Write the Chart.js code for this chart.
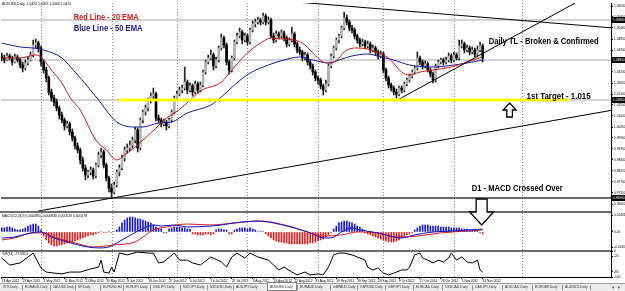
<!DOCTYPE html>
<html><head><meta charset="utf-8">
<script src="https://cdn.jsdelivr.net/npm/chart.js@4.4.1/dist/chart.umd.min.js"></script>
<style>html,body{margin:0;padding:0;background:#fff;overflow:hidden}</style>
</head><body>
<canvas id="c" width="625" height="291" style="display:block;width:625px;height:291px"></canvas>
<script>
// ---------- DATA ----------
const dateLabels = ["13 Apr 2012","23 Apr 2012","2 May 2012","11 May 2012","21 May 2012","30 May 2012","8 Jun 2012","18 Jun 2012","27 Jun 2012","6 Jul 2012","16 Jul 2012","25 Jul 2012","3 Aug 2012","13 Aug 2012","22 Aug 2012","31 Aug 2012","10 Sep 2012","19 Sep 2012","28 Sep 2012","8 Oct 2012","17 Oct 2012","26 Oct 2012","5 Nov 2012","14 Nov 2012"];
const dateIdx = [0,8,16,24,32,40,48,56,64,72,80,88,96,104,112,120,128,136,144,152,160,168,176,184];
const monthStartIdx = [15,42,67,94,121,146,173,199];

const opens = [1.0400,1.0390,1.0380,1.0400,1.0390,1.0370,1.0395,1.0380,1.0355,1.0340,
1.0365,1.0380,1.0405,1.0455,1.0465,1.0440,1.0370,1.0330,1.0290,1.0220,
1.0190,1.0170,1.0140,1.0105,1.0080,1.0050,1.0060,1.0020,0.9990,0.9950,
0.9930,0.9880,0.9840,0.9805,0.9820,0.9830,0.9800,0.9855,0.9905,0.9920,
0.9855,0.9790,0.9740,0.9720,0.9755,0.9820,0.9840,0.9890,0.9930,0.9940,
0.9955,0.9980,1.0030,0.9940,1.0080,1.0120,1.0140,1.0180,1.0200,1.0210,
1.0090,1.0080,1.0060,1.0070,1.0050,1.0080,1.0120,1.0190,1.0210,1.0230,
1.0240,1.0270,1.0230,1.0250,1.0220,1.0260,1.0230,1.0255,1.0320,1.0370,
1.0390,1.0405,1.0350,1.0380,1.0440,1.0490,1.0455,1.0370,1.0330,1.0390,
1.0470,1.0500,1.0520,1.0480,1.0500,1.0470,1.0530,1.0560,1.0570,1.0580,
1.0570,1.0600,1.0570,1.0580,1.0500,1.0480,1.0510,1.0500,1.0515,1.0490,
1.0460,1.0480,1.0510,1.0460,1.0430,1.0420,1.0390,1.0405,1.0370,1.0350,
1.0320,1.0290,1.0280,1.0250,1.0230,1.0260,1.0350,1.0400,1.0440,1.0480,
1.0500,1.0540,1.0590,1.0570,1.0540,1.0530,1.0500,1.0480,1.0460,1.0470,
1.0450,1.0460,1.0430,1.0440,1.0420,1.0400,1.0410,1.0330,1.0290,1.0255,
1.0240,1.0220,1.0210,1.0240,1.0230,1.0260,1.0280,1.0300,1.0320,1.0340,
1.0390,1.0370,1.0350,1.0360,1.0330,1.0310,1.0280,1.0350,1.0370,1.0380,
1.0370,1.0380,1.0400,1.0380,1.0405,1.0390,1.0450,1.0460,1.0430,1.0440,
1.0420,1.0430,1.0410,1.0430,1.0450];
const highs = [1.0415,1.0405,1.0415,1.0410,1.0400,1.0410,1.0405,1.0390,1.0370,1.0380,
1.0395,1.0420,1.0480,1.0485,1.0475,1.0450,1.0380,1.0345,1.0300,1.0235,
1.0205,1.0185,1.0150,1.0120,1.0090,1.0075,1.0070,1.0035,1.0000,0.9965,
0.9940,0.9895,0.9855,0.9830,0.9845,0.9840,0.9865,0.9920,0.9940,0.9930,
0.9865,0.9800,0.9760,0.9770,0.9830,0.9855,0.9905,0.9945,0.9960,0.9975,
0.9995,1.0045,1.0040,1.0090,1.0130,1.0155,1.0190,1.0215,1.0240,1.0220,
1.0105,1.0090,1.0085,1.0080,1.0090,1.0130,1.0200,1.0225,1.0245,1.0255,
1.0345,1.0280,1.0265,1.0260,1.0275,1.0270,1.0270,1.0330,1.0380,1.0405,
1.0430,1.0415,1.0395,1.0450,1.0510,1.0500,1.0465,1.0380,1.0400,1.0480,
1.0515,1.0540,1.0530,1.0515,1.0510,1.0540,1.0575,1.0585,1.0595,1.0590,
1.0615,1.0610,1.0595,1.0590,1.0515,1.0525,1.0520,1.0530,1.0525,1.0500,
1.0490,1.0545,1.0520,1.0470,1.0445,1.0430,1.0420,1.0415,1.0380,1.0360,
1.0330,1.0300,1.0290,1.0260,1.0280,1.0360,1.0410,1.0450,1.0490,1.0510,
1.0550,1.0620,1.0605,1.0580,1.0555,1.0540,1.0510,1.0490,1.0485,1.0480,
1.0475,1.0470,1.0455,1.0450,1.0430,1.0425,1.0420,1.0340,1.0300,1.0265,
1.0250,1.0235,1.0250,1.0250,1.0270,1.0290,1.0310,1.0330,1.0350,1.0420,
1.0400,1.0380,1.0375,1.0370,1.0340,1.0320,1.0360,1.0380,1.0390,1.0390,
1.0395,1.0415,1.0410,1.0420,1.0415,1.0480,1.0480,1.0470,1.0455,1.0450,
1.0445,1.0440,1.0450,1.0470,1.0460];
const lows = [1.0375,1.0365,1.0375,1.0380,1.0355,1.0365,1.0370,1.0340,1.0320,1.0330,
1.0355,1.0375,1.0395,1.0440,1.0420,1.0350,1.0315,1.0270,1.0205,1.0175,
1.0150,1.0125,1.0085,1.0065,1.0030,1.0040,1.0005,0.9975,0.9935,0.9915,
0.9860,0.9825,0.9780,0.9790,0.9805,0.9785,0.9790,0.9845,0.9890,0.9840,
0.9775,0.9720,0.9695,0.9710,0.9745,0.9800,0.9830,0.9875,0.9915,0.9925,
0.9940,0.9965,0.9920,0.9930,1.0065,1.0105,1.0125,1.0165,1.0185,1.0075,
1.0065,1.0045,1.0050,1.0030,1.0040,1.0070,1.0110,1.0180,1.0200,1.0215,
1.0230,1.0210,1.0220,1.0200,1.0210,1.0215,1.0220,1.0245,1.0310,1.0360,
1.0380,1.0330,1.0340,1.0370,1.0430,1.0440,1.0355,1.0310,1.0320,1.0380,
1.0460,1.0490,1.0460,1.0470,1.0455,1.0460,1.0520,1.0545,1.0560,1.0555,
1.0560,1.0555,1.0560,1.0490,1.0465,1.0470,1.0485,1.0490,1.0475,1.0445,
1.0450,1.0470,1.0445,1.0415,1.0405,1.0375,1.0380,1.0355,1.0335,1.0305,
1.0275,1.0260,1.0235,1.0205,1.0220,1.0250,1.0340,1.0390,1.0430,1.0465,
1.0490,1.0530,1.0555,1.0525,1.0515,1.0485,1.0465,1.0445,1.0450,1.0435,
1.0440,1.0415,1.0420,1.0405,1.0385,1.0390,1.0315,1.0275,1.0240,1.0225,
1.0205,1.0190,1.0200,1.0215,1.0220,1.0250,1.0270,1.0290,1.0310,1.0330,
1.0355,1.0335,1.0340,1.0320,1.0295,1.0265,1.0270,1.0340,1.0360,1.0355,
1.0360,1.0370,1.0365,1.0370,1.0380,1.0380,1.0440,1.0415,1.0420,1.0405,
1.0410,1.0395,1.0400,1.0420,1.0370];
const closes = [1.0390,1.0380,1.0400,1.0390,1.0370,1.0395,1.0380,1.0355,1.0340,1.0365,
1.0380,1.0405,1.0455,1.0465,1.0440,1.0370,1.0330,1.0290,1.0220,1.0190,
1.0170,1.0140,1.0105,1.0080,1.0050,1.0060,1.0020,0.9990,0.9950,0.9930,
0.9880,0.9840,0.9805,0.9820,0.9830,0.9800,0.9855,0.9905,0.9920,0.9855,
0.9790,0.9740,0.9720,0.9755,0.9820,0.9840,0.9890,0.9930,0.9940,0.9955,
0.9980,1.0030,0.9940,1.0080,1.0120,1.0140,1.0180,1.0200,1.0210,1.0090,
1.0080,1.0060,1.0070,1.0050,1.0080,1.0120,1.0190,1.0210,1.0230,1.0240,
1.0270,1.0230,1.0250,1.0220,1.0260,1.0230,1.0255,1.0320,1.0370,1.0390,
1.0405,1.0350,1.0380,1.0440,1.0490,1.0455,1.0370,1.0330,1.0390,1.0470,
1.0500,1.0520,1.0480,1.0500,1.0470,1.0530,1.0560,1.0570,1.0580,1.0570,
1.0600,1.0570,1.0580,1.0500,1.0480,1.0510,1.0500,1.0515,1.0490,1.0460,
1.0480,1.0510,1.0460,1.0430,1.0420,1.0390,1.0405,1.0370,1.0350,1.0320,
1.0290,1.0280,1.0250,1.0230,1.0260,1.0350,1.0400,1.0440,1.0480,1.0500,
1.0540,1.0590,1.0570,1.0540,1.0530,1.0500,1.0480,1.0460,1.0470,1.0450,
1.0460,1.0430,1.0440,1.0420,1.0400,1.0410,1.0330,1.0290,1.0255,1.0240,
1.0220,1.0210,1.0240,1.0230,1.0260,1.0280,1.0300,1.0320,1.0340,1.0390,
1.0370,1.0350,1.0360,1.0330,1.0310,1.0280,1.0350,1.0370,1.0380,1.0370,
1.0380,1.0400,1.0380,1.0405,1.0390,1.0450,1.0460,1.0430,1.0440,1.0420,
1.0430,1.0410,1.0430,1.0450,1.0390];

const ema20Idx = [0,7,13,15,19,23,26,30,36,40,44,47,51,57,59,63,65,70,76,84,89,94,99,103,107,112,116,119,123,126,129,131,135,140,144,148,153,156,160,165,172,178,184];
const ema20Val = [1.0390,1.0390,1.0405,1.0395,1.0330,1.0265,1.0195,1.0130,0.9980,0.9930,0.9880,0.9905,0.9945,1.0015,1.0040,1.0090,1.0105,1.0155,1.0225,1.0270,1.0345,1.0415,1.0465,1.0490,1.0485,1.0480,1.0455,1.0415,1.0370,1.0365,1.0390,1.0420,1.0440,1.0435,1.0415,1.0390,1.0320,1.0305,1.0320,1.0330,1.0345,1.0370,1.0395];
const ema50Idx = [0,7,12,16,23,28,33,37,44,51,54,60,65,71,80,84,89,95,102,108,114,119,125,129,134,140,145,150,156,165,173,178,184];
const ema50Val = [1.0465,1.0445,1.0440,1.0430,1.0390,1.0320,1.0245,1.0180,1.0070,1.0045,1.0045,1.0065,1.0070,1.0115,1.0155,1.0195,1.0255,1.0315,1.0355,1.0380,1.0395,1.0380,1.0365,1.0380,1.0400,1.0410,1.0395,1.0380,1.0355,1.0345,1.0355,1.0365,1.0380];

const hLinePrices = [1.0580, 1.0380, 1.0180, 0.9690];
const trendTopIdx = [108, 234],   trendTopVal = [1.0675, 1.0540];
const trendDailyIdx = [150.7, 219.4], trendDailyVal = [1.0175, 1.0665];
const trendLowIdx = [14, 234],    trendLowVal = [0.9625, 1.0130];
const targetIdx = [44.8, 216.9],  targetVal = [1.0180, 1.0180];

const macdHist = [0.0034,0.0034,0.0042,0.0042,0.0034,0.0025,0.0017,0.0017,0.0025,0.0034,
0.0050,0.0059,0.0067,0.0067,0.0050,0.0017,-0.0034,-0.0067,-0.0092,-0.0109,
-0.0118,-0.0118,-0.0109,-0.0109,-0.0101,-0.0092,-0.0092,-0.0084,-0.0076,-0.0067,
-0.0059,-0.0050,-0.0042,-0.0034,-0.0025,-0.0025,-0.0017,-0.0008,0.0004,-0.0004,
-0.0004,0.0004,-0.0004,0.0004,0.0017,0.0042,0.0076,0.0101,0.0118,0.0126,
0.0126,0.0118,0.0109,0.0109,0.0101,0.0092,0.0084,0.0076,0.0059,0.0042,
0.0034,0.0025,-0.0008,-0.0008,0.0025,0.0034,0.0042,0.0042,0.0042,0.0034,
0.0034,0.0025,0.0025,-0.0017,-0.0017,-0.0025,-0.0025,-0.0025,-0.0017,-0.0017,
-0.0025,-0.0017,0.0017,0.0025,0.0025,0.0017,0.0017,-0.0017,-0.0017,0.0017,
0.0025,0.0034,0.0034,0.0034,0.0025,0.0034,0.0025,0.0017,0.0004,0.0004,
0.0004,-0.0017,-0.0034,-0.0050,-0.0067,-0.0076,-0.0084,-0.0084,-0.0092,-0.0092,
-0.0101,-0.0101,-0.0101,-0.0101,-0.0101,-0.0101,-0.0101,-0.0101,-0.0092,-0.0092,
-0.0084,-0.0076,-0.0067,-0.0059,-0.0042,-0.0025,-0.0008,0.0025,0.0050,0.0076,
0.0084,0.0092,0.0092,0.0084,0.0076,0.0067,0.0050,0.0042,0.0025,-0.0008,
-0.0017,-0.0025,-0.0034,-0.0042,-0.0050,-0.0059,-0.0067,-0.0076,-0.0084,-0.0084,
-0.0084,-0.0076,-0.0067,-0.0050,-0.0034,-0.0025,-0.0017,-0.0008,0.0017,0.0034,
0.0050,0.0059,0.0059,0.0059,0.0050,0.0050,0.0050,0.0050,0.0042,0.0042,
0.0042,0.0042,0.0034,0.0034,0.0034,0.0034,0.0025,0.0025,0.0025,0.0017,
0.0017,0.0017,0.0008,-0.0008,-0.0017];
const macdMainIdx = [0,5,11,15,19,25,33,37,41,44,48,53,58,61,66,71,80,84,89,98,104,112,118,123,126,130,134,137,144,150,153,158,165,173,184];
const macdMainVal = [-0.0050,-0.0042,-0.0008,0.0000,-0.0042,-0.0084,-0.0126,-0.0134,-0.0126,-0.0092,-0.0042,0.0017,0.0059,0.0050,0.0059,0.0042,0.0050,0.0059,0.0076,0.0092,0.0076,0.0034,-0.0008,-0.0050,-0.0050,0.0000,0.0034,0.0017,-0.0008,-0.0042,-0.0050,-0.0025,0.0000,0.0008,0.0025];
const macdSigIdx = [0,5,12,16,20,28,35,43,51,58,63,71,80,89,99,108,117,123,130,136,144,150,153,159,168,178,184];
const macdSigVal = [-0.0067,-0.0050,-0.0008,-0.0008,-0.0042,-0.0092,-0.0126,-0.0109,-0.0084,0.0017,0.0042,0.0067,0.0059,0.0076,0.0092,0.0059,0.0000,-0.0034,-0.0025,0.0000,-0.0008,-0.0042,-0.0042,-0.0034,-0.0008,0.0008,0.0017];

const wprIdx = [0,3,7,12,13,15,17,20,23,26,30,34,37,38,39,41,42,43,45,48,52,56,58,60,62,66,68,71,73,76,80,84,86,88,90,93,95,98,102,104,106,108,111,113,116,118,121,123,125,127,129,131,134,136,139,140,142,144,146,148,150,153,155,156,158,160,161,163,165,167,169,171,172,174,176,178,180,182,183,184];
const wprVal = [-27,-54,-46,-8,-27,-65,-81,-85,-88,-81,-81,-69,-62,-35,-81,-85,-62,-81,-8,-15,-4,-8,-8,-46,-42,-8,-35,-35,-46,-54,-23,-42,-62,-23,-8,-27,-8,-23,-35,-54,-73,-62,-81,-92,-81,-92,-88,-92,-62,-15,-8,-8,-15,-23,-35,-62,-73,-65,-85,-92,-85,-73,-73,-62,-15,-8,-27,-35,-46,-35,-42,-27,-8,-35,-23,-42,-46,-35,-73,-81];

const priceTicks = [1.0650,1.0595,1.0540,1.0485,1.0430,1.0375,1.0320,1.0265,1.0210,1.0155,1.0100,1.0045,0.9990,0.9935,0.9880,0.9825,0.9770,0.9715,0.9660];
const macdTicks = [0.0140, 0, -0.0130];
const macdTickLabels = ["0.014016","0.00","-0.013087"];
const wprTicks = [0, -20, -80, -100];

const titleText = "AUDUSD,Daily  1.0425 1.0459 1.0403 1.0425";
const macdText = "MACD(12,26,9) 0.000830 -0.000830 0.000528 0.000578";
const wprText = "%R(14) -77.5814";
const notes = [
  {text:"Red Line - 20 EMA", i:27.5, p:1.0580, color:"#cc1a1a"},
  {text:"Blue Line - 50 EMA", i:27.5, p:1.0525, color:"#1a1a9a"},
  {text:"Daily TL - Broken & Confirmed", i:186.3, p:1.0460, color:"#000"},
  {text:"1st Target - 1.015", i:200.8, p:1.0185, color:"#000"},
  {text:"D1 - MACD Crossed Over", i:179.8, p:0.9725, color:"#000"}
];
const noteWidths = [65, 69, 110, 64, 91];
const upArrow = {i:194.3, top:1.0165};
const downArrow = {i:183.6, top:0.9685};
const tabNames = ["WTI,Daily","EURAUD,Daily","XAUUSD,Daily","SP,Daily","EURUSD,H4","EURJPY,Daily","USDJPY,Daily","NZDJPY,Daily","NZDUSD,Daily","AUDJPY,Daily","AUDUSD,Daily","EURAUD,Daily","GBPAUD,Daily","GBPUSD,Daily","GBPJPY,Daily","EURCAD,Daily","USDCAD,Daily","CADJPY,Daily","AUDCAD,Daily","EURGBP,Daily","AUDNZD,Daily"];
const activeTab = 10;

// ---------- build ----------
const pts = (xs, ys) => xs.map((x, k) => ({x: x, y: ys[k]}));
const wicks = closes.map((c, i) => ({x: i, y: [lows[i], highs[i]]}));
const bodies = closes.map((c, i) => ({x: i, y: [opens[i], c]}));
const hist = macdHist.map((v, i) => ({x: i, y: v}));
const hLineSets = hLinePrices.map((p, k) => ({
  type:'line', data: pts([-2, 240], [p, p]), yAxisID:'y',
  borderColor: k === 3 ? '#3a3a3a' : '#a8a8a8', borderWidth: k === 3 ? 1.5 : 1,
  pointRadius:0, order: 20
}));
const lineDS = (data, color, w, axis, order, extra) => Object.assign({
  type:'line', data, borderColor:color, borderWidth:w, pointRadius:0, yAxisID:axis, order, fill:false
}, extra || {});
const noPad = s => { s.paddingLeft = 0; s.paddingRight = 0; s.paddingTop = 0; s.paddingBottom = 0; };

const rightAxis = (stackWeight, extra) => Object.assign({
  type:'linear', position:'right', stack:'panels', stackWeight, offset:false,
  grid:{display:true, drawOnChartArea:false, drawTicks:true, tickLength:2, color:'#000'},
  border:{display:true, color:'#000', width:1},
  afterFit: s => { s.width = 14; noPad(s); }
}, extra);

const mt4 = {
  id:'mt4',
  beforeDraw(chart){
    const ctx = chart.ctx; ctx.save(); ctx.fillStyle = '#fff'; ctx.fillRect(0, 0, chart.width, chart.height); ctx.restore();
  },
  beforeDatasetsDraw(chart){
    const {ctx, chartArea:a, scales:{x}} = chart;
    ctx.save();
    ctx.strokeStyle = '#8c8c8c'; ctx.lineWidth = 1; ctx.setLineDash([1, 2]);
    monthStartIdx.forEach(i => {
      const px = Math.round(x.getPixelForValue(i)) + 0.5;
      ctx.beginPath(); ctx.moveTo(px, a.top); ctx.lineTo(px, a.bottom); ctx.stroke();
    });
    ctx.restore();
  },
  afterDatasetsDraw(chart){
    const {ctx, chartArea:a, scales} = chart;
    const x = scales.x, y = scales.y, ym = scales.yM, yw = scales.yW;
    ctx.save();
    ctx.strokeStyle = '#3c3c3c'; ctx.lineWidth = 1.5;
    [y.bottom, ym.bottom].forEach(py => { ctx.beginPath(); ctx.moveTo(0, py); ctx.lineTo(a.right, py); ctx.stroke(); });
    ctx.textBaseline = 'alphabetic'; ctx.textAlign = 'left';
    notes.forEach((n, k) => {
      ctx.font = 'bold 9px "Liberation Sans", sans-serif';
      ctx.fillStyle = n.color;
      ctx.fillText(n.text, x.getPixelForValue(n.i), y.getPixelForValue(n.p), noteWidths[k]);
    });
    ctx.lineWidth = 1.3; ctx.strokeStyle = '#000'; ctx.fillStyle = '#fff';
    let cx = x.getPixelForValue(upArrow.i), ty = y.getPixelForValue(upArrow.top);
    ctx.beginPath();
    ctx.moveTo(cx, ty); ctx.lineTo(cx + 6.5, ty + 7); ctx.lineTo(cx + 2.8, ty + 7); ctx.lineTo(cx + 2.8, ty + 14);
    ctx.lineTo(cx - 2.8, ty + 14); ctx.lineTo(cx - 2.8, ty + 7); ctx.lineTo(cx - 6.5, ty + 7); ctx.closePath();
    ctx.fill(); ctx.stroke();
    cx = x.getPixelForValue(downArrow.i); ty = y.getPixelForValue(downArrow.top);
    ctx.beginPath();
    ctx.moveTo(cx - 5.5, ty); ctx.lineTo(cx + 5.5, ty); ctx.lineTo(cx + 5.5, ty + 13); ctx.lineTo(cx + 12, ty + 13);
    ctx.lineTo(cx, ty + 26); ctx.lineTo(cx - 12, ty + 13); ctx.lineTo(cx - 5.5, ty + 13); ctx.closePath();
    ctx.fill(); ctx.stroke();
    ctx.font = '3.4px "Liberation Sans"'; ctx.fillStyle = '#000'; ctx.textBaseline = 'middle';
    ctx.fillText(titleText, a.left + 1, a.top + 1.5);
    ctx.fillText(macdText, a.left + 1, ym.top + 4);
    ctx.fillText(wprText, a.left + 1, yw.top + 3);
    ctx.restore();
  },
  afterDraw(chart){
    const {ctx, chartArea:a, scales} = chart;
    const y = scales.y;
    ctx.save();
    ctx.font = '3.2px "Liberation Sans"'; ctx.textBaseline = 'middle'; ctx.textAlign = 'left';
    hLinePrices.forEach(p => {
      const py = y.getPixelForValue(p);
      ctx.fillStyle = '#000'; ctx.fillRect(a.right + 1, py - 3, 13, 6);
      ctx.fillStyle = '#fff'; ctx.fillText(p.toFixed(5), a.right + 2, py);
    });
    const top = 283, H = chart.height;
    ctx.fillStyle = '#ececec'; ctx.fillRect(0, top, chart.width, H - top);
    ctx.strokeStyle = '#a0a0a0'; ctx.lineWidth = 1;
    ctx.beginPath(); ctx.moveTo(0, top + 0.5); ctx.lineTo(chart.width, top + 0.5); ctx.stroke();
    const edges = [0,22,50,75,100,123,150,180,207,233,267,297,330,357,385,413,442,472,502,532,562,590];
    tabNames.forEach((t, k) => {
      const l = edges[k], r = edges[k + 1];
      if (k === activeTab) {
        ctx.fillStyle = '#fff'; ctx.fillRect(l, top - 1, r - l, H - top + 1);
        ctx.strokeStyle = '#808080'; ctx.strokeRect(l + 0.5, top - 0.5, r - l - 1, H - top);
      }
      ctx.strokeStyle = '#909090';
      ctx.beginPath(); ctx.moveTo(r + 0.5, top + 2); ctx.lineTo(r + 0.5, H - 1); ctx.stroke();
      ctx.fillStyle = '#333'; ctx.font = '3.4px "Liberation Sans"'; ctx.textBaseline = 'middle';
      ctx.fillText(t, l + 3, top + 4.5, r - l - 4);
    });
    ctx.fillStyle = '#555';
    ctx.beginPath(); ctx.moveTo(612, 287.5); ctx.lineTo(614, 286); ctx.lineTo(614, 289); ctx.closePath(); ctx.fill();
    ctx.beginPath(); ctx.moveTo(620, 287.5); ctx.lineTo(618, 286); ctx.lineTo(618, 289); ctx.closePath(); ctx.fill();
    ctx.restore();
  }
};

Chart.defaults.font.family = 'Liberation Sans';
new Chart(document.getElementById('c'), {
  data: {
    datasets: [
      lineDS(pts(targetIdx, targetVal), '#ffff00', 3, 'y', 3),
      lineDS(pts(trendTopIdx, trendTopVal), '#000', 1, 'y', 4),
      lineDS(pts(trendDailyIdx, trendDailyVal), '#000', 1, 'y', 4),
      lineDS(pts(trendLowIdx, trendLowVal), '#000', 1, 'y', 4),
      lineDS(pts(ema20Idx, ema20Val), '#cc1a1a', 1, 'y', 5, {cubicInterpolationMode:'monotone'}),
      lineDS(pts(ema50Idx, ema50Val), '#1a1aaa', 1, 'y', 6, {cubicInterpolationMode:'monotone'}),
      {type:'bar', data:bodies, yAxisID:'y', grouped:false, barThickness:2, minBarLength:1, order:7,
        backgroundColor: c => { const i = c.dataIndex; return closes[i] >= opens[i] ? '#b4b4b4' : '#000'; }},
      {type:'bar', data:wicks, yAxisID:'y', grouped:false, barThickness:1, order:8, backgroundColor:'#222'},
      ...hLineSets,
      lineDS(pts(macdMainIdx, macdMainVal), '#1010c8', 1, 'yM', 1, {cubicInterpolationMode:'monotone'}),
      lineDS(pts(macdSigIdx, macdSigVal), '#e01818', 1, 'yM', 2, {cubicInterpolationMode:'monotone'}),
      {type:'bar', data:hist, yAxisID:'yM', grouped:false, barThickness:1, order:9,
        backgroundColor: c => (macdHist[c.dataIndex] >= 0 ? '#1a1ad0' : '#e02020')},
      lineDS(pts(wprIdx, wprVal), '#000', 1, 'yW', 1)
    ]
  },
  options: {
    responsive:false, animation:false, devicePixelRatio:1,
    layout:{padding:{left:1, right:0, top:3, bottom:8}},
    plugins:{legend:{display:false}, tooltip:{enabled:false}},
    scales:{
      x:{type:'linear', min:-0.3, max:233.1, position:'bottom', offset:false, bounds:'data',
        grid:{display:true, drawOnChartArea:false, drawTicks:true, tickLength:2, color:'#000', offset:false},
        border:{display:true, color:'#000'},
        ticks:{font:{size:3.2}, color:'#000', padding:0, align:'start', maxRotation:0, autoSkip:false,
          callback:(v) => { const k = dateIdx.indexOf(v); return k >= 0 ? dateLabels[k] : ''; }},
        afterBuildTicks: s => { s.ticks = dateIdx.map(v => ({value:v})); },
        afterFit: s => { s.height = 6; noPad(s); }
      },
      y: rightAxis(209, {min:0.9620, max:1.0665,
        afterBuildTicks: s => { s.ticks = priceTicks.map(v => ({value:v})); },
        ticks:{font:{size:3.2}, color:'#000', padding:1, autoSkip:false, callback:v => v.toFixed(5)}}),
      yM: rightAxis(39, {min:-0.0160, max:0.0168,
        afterBuildTicks: s => { s.ticks = macdTicks.map(v => ({value:v})); },
        ticks:{font:{size:3.2}, color:'#000', padding:1, autoSkip:false, callback:v => macdTickLabels[macdTicks.indexOf(v)]}}),
      yW: rightAxis(26, {min:-100, max:0,
        afterBuildTicks: s => { s.ticks = wprTicks.map(v => ({value:v})); },
        ticks:{font:{size:3.2}, color:'#000', padding:1, autoSkip:false, callback:v => String(v)}})
    }
  },
  plugins:[mt4]
});
</script>
</body></html>
